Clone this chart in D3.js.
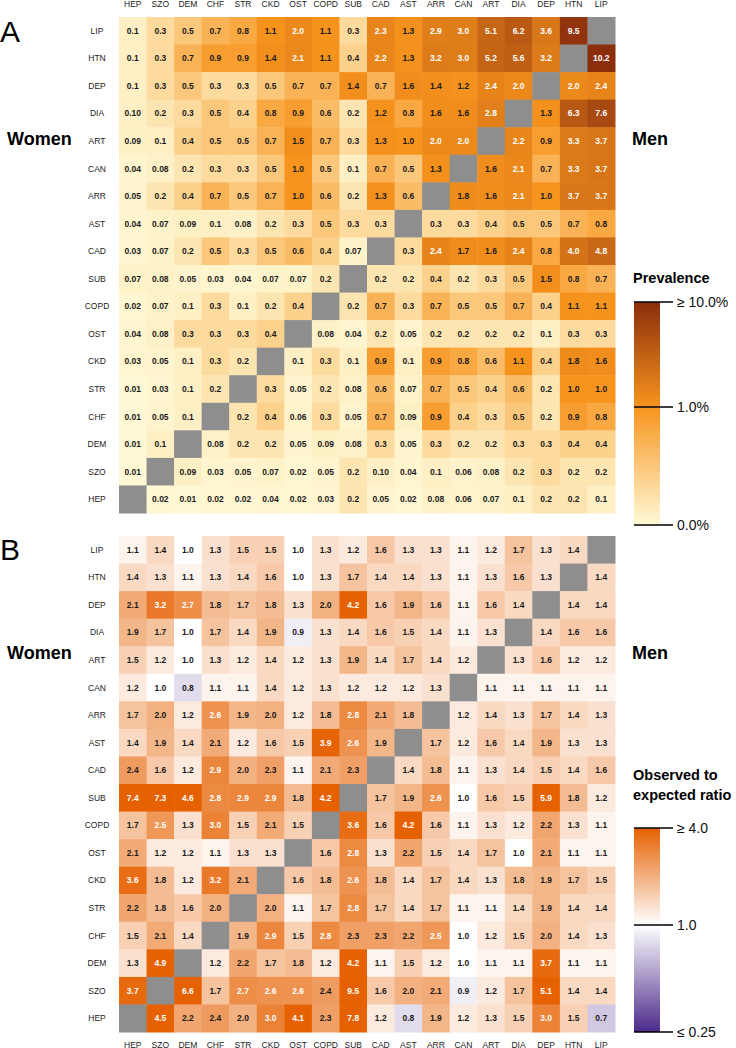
<!DOCTYPE html>
<html><head><meta charset="utf-8">
<script src="https://cdn.jsdelivr.net/npm/d3@7"></script>
<style>body{margin:0;background:#fff}svg{display:block;font-family:"Liberation Sans",Arial,sans-serif}</style>
</head><body><svg id="c" width="736" height="1048"></svg>
<script>
// Column categories (left to right) and row categories (top to bottom)
const columns = ["HEP","SZO","DEM","CHF","STR","CKD","OST","COPD","SUB","CAD","AST","ARR","CAN","ART","DIA","DEP","HTN","LIP"];
const rows = ["LIP","HTN","DEP","DIA","ART","CAN","ARR","AST","CAD","SUB","COPD","OST","CKD","STR","CHF","DEM","SZO","HEP"];

// Panel A: prevalence (%), one array per row; null = diagonal
const prevLIP  = ["0.1","0.3","0.5","0.7","0.8","1.1","2.0","1.1","0.3","2.3","1.3","2.9","3.0","5.1","6.2","3.6","9.5",null];
const prevHTN  = ["0.1","0.3","0.7","0.9","0.9","1.4","2.1","1.1","0.4","2.2","1.3","3.2","3.0","5.2","5.6","3.2",null,"10.2"];
const prevDEP  = ["0.1","0.3","0.5","0.3","0.3","0.5","0.7","0.7","1.4","0.7","1.6","1.4","1.2","2.4","2.0",null,"2.0","2.4"];
const prevDIA  = ["0.10","0.2","0.3","0.5","0.4","0.8","0.9","0.6","0.2","1.2","0.8","1.6","1.6","2.8",null,"1.3","6.3","7.6"];
const prevART  = ["0.09","0.1","0.4","0.5","0.5","0.7","1.5","0.7","0.3","1.3","1.0","2.0","2.0",null,"2.2","0.9","3.3","3.7"];
const prevCAN  = ["0.04","0.08","0.2","0.3","0.3","0.5","1.0","0.5","0.1","0.7","0.5","1.3",null,"1.6","2.1","0.7","3.3","3.7"];
const prevARR  = ["0.05","0.2","0.4","0.7","0.5","0.7","1.0","0.6","0.2","1.3","0.6",null,"1.8","1.6","2.1","1.0","3.7","3.7"];
const prevAST  = ["0.04","0.07","0.09","0.1","0.08","0.2","0.3","0.5","0.3","0.3",null,"0.3","0.3","0.4","0.5","0.5","0.7","0.8"];
const prevCAD  = ["0.03","0.07","0.2","0.5","0.3","0.5","0.6","0.4","0.07",null,"0.3","2.4","1.7","1.6","2.4","0.8","4.0","4.8"];
const prevSUB  = ["0.07","0.08","0.05","0.03","0.04","0.07","0.07","0.2",null,"0.2","0.2","0.4","0.2","0.3","0.5","1.5","0.8","0.7"];
const prevCOPD = ["0.02","0.07","0.1","0.3","0.1","0.2","0.4",null,"0.2","0.7","0.3","0.7","0.5","0.5","0.7","0.4","1.1","1.1"];
const prevOST  = ["0.04","0.08","0.3","0.3","0.3","0.4",null,"0.08","0.04","0.2","0.05","0.2","0.2","0.2","0.2","0.1","0.3","0.3"];
const prevCKD  = ["0.03","0.05","0.1","0.3","0.2",null,"0.1","0.3","0.1","0.9","0.1","0.9","0.8","0.6","1.1","0.4","1.8","1.6"];
const prevSTR  = ["0.01","0.03","0.1","0.2",null,"0.3","0.05","0.2","0.08","0.6","0.07","0.7","0.5","0.4","0.6","0.2","1.0","1.0"];
const prevCHF  = ["0.01","0.05","0.1",null,"0.2","0.4","0.06","0.3","0.05","0.7","0.09","0.9","0.4","0.3","0.5","0.2","0.9","0.8"];
const prevDEM  = ["0.01","0.1",null,"0.08","0.2","0.2","0.05","0.09","0.08","0.3","0.05","0.3","0.2","0.2","0.3","0.3","0.4","0.4"];
const prevSZO  = ["0.01",null,"0.09","0.03","0.05","0.07","0.02","0.05","0.2","0.10","0.04","0.1","0.06","0.08","0.2","0.3","0.2","0.2"];
const prevHEP  = [null,"0.02","0.01","0.02","0.02","0.04","0.02","0.03","0.2","0.05","0.02","0.08","0.06","0.07","0.1","0.2","0.2","0.1"];

// Panel B: observed to expected ratio, one array per row
const oeLIP  = ["1.1","1.4","1.0","1.3","1.5","1.5","1.0","1.3","1.2","1.6","1.3","1.3","1.1","1.2","1.7","1.3","1.4",null];
const oeHTN  = ["1.4","1.3","1.1","1.3","1.4","1.6","1.0","1.3","1.7","1.4","1.4","1.3","1.1","1.3","1.6","1.3",null,"1.4"];
const oeDEP  = ["2.1","3.2","2.7","1.8","1.7","1.8","1.3","2.0","4.2","1.6","1.9","1.6","1.1","1.6","1.4",null,"1.4","1.4"];
const oeDIA  = ["1.9","1.7","1.0","1.7","1.4","1.9","0.9","1.3","1.4","1.6","1.5","1.4","1.1","1.3",null,"1.4","1.6","1.6"];
const oeART  = ["1.5","1.2","1.0","1.3","1.2","1.4","1.2","1.3","1.9","1.4","1.7","1.4","1.2",null,"1.3","1.6","1.2","1.2"];
const oeCAN  = ["1.2","1.0","0.8","1.1","1.1","1.4","1.2","1.3","1.2","1.2","1.2","1.3",null,"1.1","1.1","1.1","1.1","1.1"];
const oeARR  = ["1.7","2.0","1.2","2.6","1.9","2.0","1.2","1.8","2.8","2.1","1.8",null,"1.2","1.4","1.3","1.7","1.4","1.3"];
const oeAST  = ["1.4","1.9","1.4","2.1","1.2","1.6","1.5","3.9","2.6","1.9",null,"1.7","1.2","1.6","1.4","1.9","1.3","1.3"];
const oeCAD  = ["2.4","1.6","1.2","2.9","2.0","2.3","1.1","2.1","2.3",null,"1.4","1.8","1.1","1.3","1.4","1.5","1.4","1.6"];
const oeSUB  = ["7.4","7.3","4.6","2.8","2.9","2.9","1.8","4.2",null,"1.7","1.9","2.6","1.0","1.6","1.5","5.9","1.8","1.2"];
const oeCOPD = ["1.7","2.5","1.3","3.0","1.5","2.1","1.5",null,"3.6","1.6","4.2","1.6","1.1","1.3","1.2","2.2","1.3","1.1"];
const oeOST  = ["2.1","1.2","1.2","1.1","1.3","1.3",null,"1.6","2.8","1.3","2.2","1.5","1.4","1.7","1.0","2.1","1.1","1.1"];
const oeCKD  = ["3.6","1.8","1.2","3.2","2.1",null,"1.6","1.8","2.6","1.8","1.4","1.7","1.4","1.3","1.8","1.9","1.7","1.5"];
const oeSTR  = ["2.2","1.8","1.6","2.0",null,"2.0","1.1","1.7","2.8","1.7","1.4","1.7","1.1","1.1","1.4","1.9","1.4","1.4"];
const oeCHF  = ["1.5","2.1","1.4",null,"1.9","2.9","1.5","2.8","2.3","2.3","2.2","2.5","1.0","1.2","1.5","2.0","1.4","1.3"];
const oeDEM  = ["1.3","4.9",null,"1.2","2.2","1.7","1.8","1.2","4.2","1.1","1.5","1.2","1.0","1.1","1.1","3.7","1.1","1.1"];
const oeSZO  = ["3.7",null,"6.6","1.7","2.7","2.6","2.6","2.4","9.5","1.6","2.0","2.1","0.9","1.2","1.7","5.1","1.4","1.4"];
const oeHEP  = [null,"4.5","2.2","2.4","2.0","3.0","4.1","2.3","7.8","1.2","0.8","1.9","1.2","1.3","1.5","3.0","1.5","0.7"];

// Legend tick labels
const prevTickValues = [10, 1, 0];
const prevTickLabels = ["\u2265 10.0%", "1.0%", "0.0%"];
const oeTickValues = [4, 1, 0.25];
const oeTickLabels = ["\u2265 4.0", "1.0", "\u2264 0.25"];

const prevRows = [prevLIP,prevHTN,prevDEP,prevDIA,prevART,prevCAN,prevARR,prevAST,prevCAD,prevSUB,prevCOPD,prevOST,prevCKD,prevSTR,prevCHF,prevDEM,prevSZO,prevHEP];
const oeRows = [oeLIP,oeHTN,oeDEP,oeDIA,oeART,oeCAN,oeARR,oeAST,oeCAD,oeSUB,oeCOPD,oeOST,oeCKD,oeSTR,oeCHF,oeDEM,oeSZO,oeHEP];

const svg = d3.select("#c");
const x = d3.scaleBand().domain(columns).range([119, 615]);

const prevColor = d3.scaleLinear().domain([0, 1, 10]).range(["#FFF9D6", "#F7941D", "#8B2E0C"]).clamp(true);
const oeColor = d3.scaleLog().base(2).domain([0.25, 1, 4]).range(["#4B2A8A", "#FFFFFF", "#E66101"]).clamp(true);

function panel(matrix, color, whiteAt, top, letter, letterY, sexY, topLabels) {
  const y = d3.scaleBand().domain(rows).range([top, top + 496]);
  const g = svg.append("g");
  const cells = [];
  matrix.forEach((arr, i) => arr.forEach((v, j) => cells.push({r: rows[i], c: columns[j], v})));
  g.selectAll("rect").data(cells).join("rect")
    .attr("x", d => x(d.c)).attr("y", d => y(d.r))
    .attr("width", x.bandwidth() + 0.5).attr("height", y.bandwidth() + 0.5)
    .attr("fill", d => d.v === null ? "#8E8E8E" : color(+d.v));
  g.selectAll("text.v").data(cells.filter(d => d.v !== null)).join("text")
    .attr("class", "v")
    .attr("x", d => x(d.c) + x.bandwidth() / 2).attr("y", d => y(d.r) + y.bandwidth() / 2)
    .attr("dy", "0.35em").attr("text-anchor", "middle")
    .attr("font-size", 8.5).attr("font-weight", "bold")
    .attr("fill", d => +d.v >= whiteAt ? "#FFFFFF" : "#1a1a1a")
    .text(d => d.v);
  // row labels
  g.selectAll("text.r").data(rows).join("text").attr("class", "r")
    .attr("x", 97).attr("y", d => y(d) + y.bandwidth() / 2).attr("dy", "0.35em")
    .attr("text-anchor", "middle").attr("font-size", 8.5).attr("fill", "#222").text(d => d);
  // column labels
  g.selectAll("text.c").data(columns).join("text").attr("class", "c")
    .attr("x", d => x(d) + x.bandwidth() / 2).attr("y", topLabels)
    .attr("text-anchor", "middle").attr("font-size", 8.5).attr("fill", "#222").text(d => d);
  svg.append("text").attr("x", 0).attr("y", letterY).attr("font-size", 30).attr("fill", "#000").text(letter);
  svg.append("text").attr("x", 7).attr("y", sexY).attr("font-size", 18).attr("font-weight", "bold").attr("fill", "#000").text("Women");
  svg.append("text").attr("x", 632).attr("y", sexY).attr("font-size", 18).attr("font-weight", "bold").attr("fill", "#000").text("Men");
}

panel(prevRows, prevColor, 2.0, 17, "A", 42, 145, 7);
panel(oeRows, oeColor, 2.5, 536, "B", 560, 659, 1048);

// Legends
const defs = svg.append("defs");
function legend(id, titleLines, titleY, scaleY, color, tickValues, tickLabels, topVal, botVal) {
  const y0 = scaleY(topVal), y1 = scaleY(botVal);
  const grad = defs.append("linearGradient").attr("id", id).attr("x1", 0).attr("y1", 0).attr("x2", 0).attr("y2", 1);
  const n = 40;
  for (let k = 0; k <= n; k++) {
    const yy = y0 + (y1 - y0) * k / n;
    grad.append("stop").attr("offset", k / n).attr("stop-color", color(scaleY.invert(yy)));
  }
  titleLines.forEach((t, i) => svg.append("text").attr("x", 633).attr("y", titleY + i * 20)
    .attr("font-size", 14.5).attr("font-weight", "bold").attr("fill", "#000").text(t));
  svg.append("rect").attr("x", 634).attr("y", y0).attr("width", 26).attr("height", y1 - y0).attr("fill", `url(#${id})`);
  tickValues.forEach((v, i) => {
    const yy = scaleY(v);
    svg.append("line").attr("x1", 634).attr("x2", 673).attr("y1", yy).attr("y2", yy).attr("stroke", "#000").attr("stroke-width", 1.5);
    svg.append("text").attr("x", 677).attr("y", yy).attr("dy", "0.35em").attr("font-size", 14).attr("fill", "#111").text(tickLabels[i]);
  });
}
const prevLegendY = d3.scaleLinear().domain([0, 1, 10]).range([525, 407, 302]);
legend("gA", ["Prevalence"], 283, prevLegendY, prevColor, prevTickValues, prevTickLabels, 10, 0);
const oeLegendY = d3.scaleLog().base(2).domain([0.25, 1, 4]).range([1032, 925, 828]);
legend("gB", ["Observed to", "expected ratio"], 780, oeLegendY, oeColor, oeTickValues, oeTickLabels, 4, 0.25);
</script></body></html>
